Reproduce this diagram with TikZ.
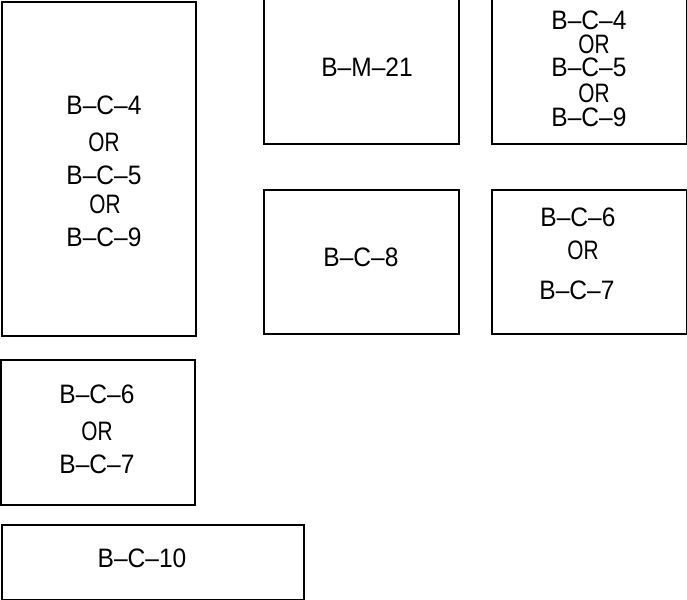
\documentclass[tikz,border=0pt]{standalone}
\usepackage{fontspec}
\setmainfont[FakeStretch=0.92]{Liberation Sans}
\newfontfamily\orfont[FakeStretch=0.78]{Liberation Sans}
\tikzset{box/.style={draw=black,line width=0.9pt,fill=none},
lab/.style={font=\fontsize{20pt}{21pt}\selectfont,text=black,inner sep=0pt,anchor=center},
orlab/.style={font=\orfont\fontsize{20pt}{21pt}\selectfont,text=black,inner sep=0pt,anchor=center}}
\begin{document}
\begin{tikzpicture}[x=0.75pt,y=-0.75pt]
\useasboundingbox (0,0) rectangle (687,600);
\draw[box] (2,2) rectangle (196,336);
\draw[box] (264,-2) rectangle (459,144);
\draw[box] (492,-2) rectangle (687,144);
\draw[box] (264,190) rectangle (459,334);
\draw[box] (492,190) rectangle (687,334);
\draw[box] (1,360) rectangle (195,505);
\draw[box] (2,525) rectangle (304,600);
\node[lab] (a1) at (104,105) {B–C–4};
\node[orlab] (a2) at (104,142) {OR};
\node[lab] (a3) at (104,175) {B–C–5};
\node[orlab] (a4) at (105,204) {OR};
\node[lab] (a5) at (104,237) {B–C–9};
\node[lab] (b) at (367,67) {B–M–21};
\node[lab] (c1) at (589,20) {B–C–4};
\node[orlab] (c2) at (594,44) {OR};
\node[lab] (c3) at (589,67) {B–C–5};
\node[orlab] (c4) at (594,93) {OR};
\node[lab] (c5) at (589,117) {B–C–9};
\node[lab] (d) at (361,257) {B–C–8};
\node[lab] (e1) at (578,217) {B–C–6};
\node[orlab] (e2) at (583,250) {OR};
\node[lab] (e3) at (577,290) {B–C–7};
\node[lab] (f1) at (97,394) {B–C–6};
\node[orlab] (f2) at (97,431) {OR};
\node[lab] (f3) at (97,464) {B–C–7};
\node[lab] (g) at (142,558) {B–C–10};
\end{tikzpicture}
\end{document}
